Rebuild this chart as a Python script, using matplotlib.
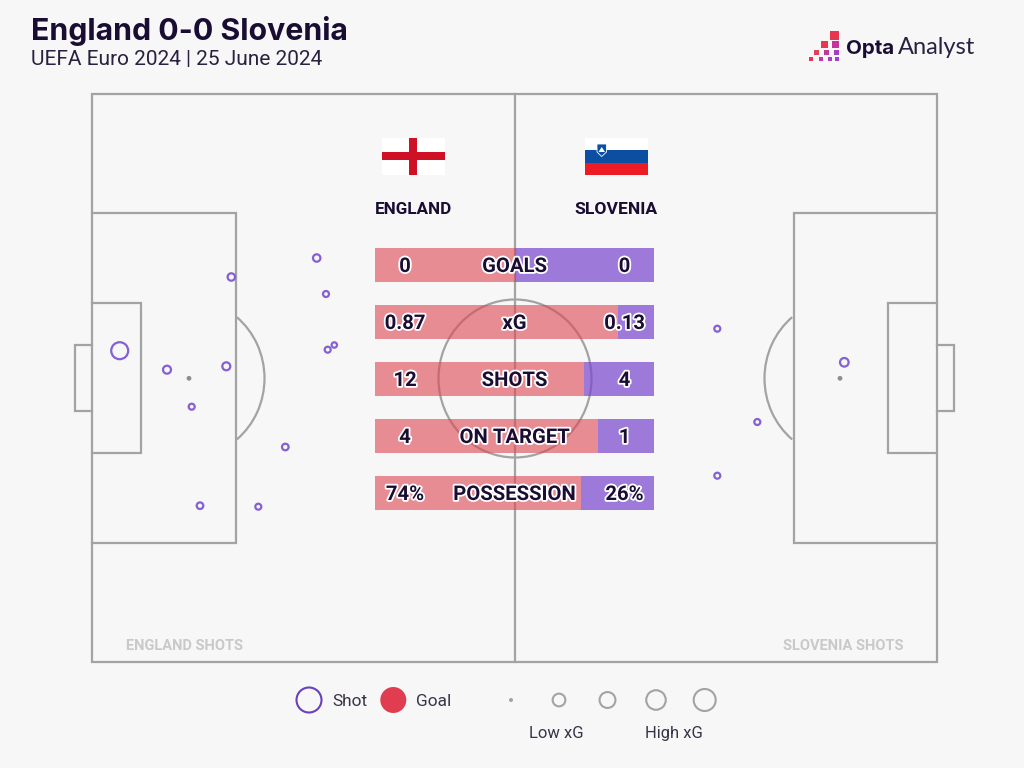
import matplotlib
matplotlib.use('Agg')
import matplotlib.pyplot as plt
import matplotlib.patheffects as pe
from matplotlib.patches import Arc, Circle, Ellipse, Polygon, Rectangle
import numpy as np

# match stats
stat_names = ['GOALS', 'xG', 'SHOTS', 'ON TARGET', 'POSSESSION']
england_stats = [0, 0.87, 12, 4, 74]
slovenia_stats = [0, 0.13, 4, 1, 26]
england_labels = ['0', '0.87', '12', '4', '74%']
slovenia_labels = ['0', '0.13', '4', '1', '26%']

# shots (x, y in image pixels) with estimated xG
england_x = [316.7, 231.3, 326, 334.3, 327.7, 119.7, 167, 226.3, 191.7, 285.3, 200, 258.3]
england_y = [258, 277, 294, 345, 349.7, 350.7, 369.7, 366.3, 406.7, 447, 505.7, 506.7]
england_xg = [0.03, 0.03, 0.011, 0.006, 0.011, 0.40, 0.04, 0.04, 0.011, 0.018, 0.018, 0.011]
slovenia_x = [717.3, 757.3, 717.3, 844.3]
slovenia_y = [328.7, 422, 475.7, 362.3]
slovenia_xg = [0.011, 0.011, 0.011, 0.053]

legend_xg = [0.0, 0.2, 0.36, 0.6, 0.8]

BG = '#F7F7F7'
LINE = '#A3A3A3'
DARK = '#1A0D33'
RED = '#E03E50'
PURPLE = '#8560D4'
LW = 1.6


def shot_radius(xg):
    return 1.9 + 10.4 * np.sqrt(xg)


def draw_half(ax, goal_x, sign, box_w):
    """ Penalty box, six yard box, goal and D for one end """
    box = [(goal_x, 213), (goal_x + sign * box_w, 213), (goal_x + sign * box_w, 543), (goal_x, 543)]
    six = [(goal_x, 303), (goal_x + sign * 49, 303), (goal_x + sign * 49, 453), (goal_x, 453)]
    goal = [(goal_x, 345), (goal_x - sign * 17, 345), (goal_x - sign * 17, 411), (goal_x, 411)]
    for pts in (box, six, goal):
        xs, ys = zip(*pts)
        ax.plot(xs, ys, color=LINE, lw=LW, solid_joinstyle='miter', zorder=1)
    spot_x = goal_x + sign * 97
    theta = 52
    start, end = (-theta, theta) if sign > 0 else (180 - theta, 180 + theta)
    # y axis is inverted, the arc stays symmetric
    ax.add_patch(Arc((spot_x, 378.3), 151, 158, theta1=start, theta2=end,
                     color=LINE, lw=LW, zorder=1))
    ax.add_patch(Circle((spot_x, 378.3), 2.4, color='#8E8E8E', lw=0, zorder=3))


fig = plt.figure(figsize=(10.24, 7.68), dpi=100, facecolor=BG)
ax = fig.add_axes([0, 0, 1, 1])
ax.set_xlim(0, 1024)
ax.set_ylim(768, 0)
ax.axis('off')

# pitch
ax.add_patch(Rectangle((92, 94), 845, 568, fill=False, ec=LINE, lw=LW, zorder=1))
ax.plot([515, 515], [94, 662], color=LINE, lw=LW, zorder=1)
ax.add_patch(Ellipse((515, 378.5), 153, 158, fill=False, ec=LINE, lw=LW, zorder=1))
draw_half(ax, 92, 1, 144)
draw_half(ax, 937, -1, 143)

# shots
for xs, ys, xgs in ((england_x, england_y, england_xg), (slovenia_x, slovenia_y, slovenia_xg)):
    for x, y, xg in zip(xs, ys, xgs):
        ax.add_patch(Circle((x, y), shot_radius(xg), fill=False, ec=PURPLE, lw=1.6, zorder=3))

ax.text(184, 646.5, 'ENGLAND SHOTS', color='#C9C9C9', fontsize=10.5, family='Roboto',
        fontweight='bold', ha='center', va='center')
ax.text(843, 646.5, 'SLOVENIA SHOTS', color='#C9C9C9', fontsize=10.5, family='Roboto',
        fontweight='bold', ha='center', va='center')

# stat bars, translucent so that the pitch shows through
bar_left = 375
bar_width = 279
bar_y = [264.5 + 57 * i for i in range(len(stat_names))]
outline = [pe.withStroke(linewidth=2.6, foreground='white')]
for i, name in enumerate(stat_names):
    total = england_stats[i] + slovenia_stats[i]
    share = england_stats[i] / total if total else 0.5
    ax.barh(bar_y[i], bar_width * share, left=bar_left, height=34, color='#DC4A55', alpha=0.62, lw=0, zorder=2)
    ax.barh(bar_y[i], bar_width * (1 - share), left=bar_left + bar_width * share, height=34,
            color='#7A48CE', alpha=0.72, lw=0, zorder=2)
    for x, s in ((405, england_labels[i]), (514.5, name), (624.5, slovenia_labels[i])):
        ax.text(x, bar_y[i], s, color=DARK, fontsize=14.6, family='Roboto', fontweight='bold',
                ha='center', va='center_baseline', path_effects=outline, zorder=4)

ax.text(413, 207.5, 'ENGLAND', color=DARK, fontsize=12.3, family='Roboto', fontweight='bold',
        ha='center', va='center_baseline')
ax.text(615.5, 207.5, 'SLOVENIA', color=DARK, fontsize=12.6, family='Roboto', fontweight='bold',
        ha='center', va='center_baseline')

# flags
ax.add_patch(Rectangle((381.5, 137.5), 63, 37.5, color='white', lw=0, zorder=2))
ax.add_patch(Rectangle((409.3, 137.5), 7.7, 37.5, color='#CE1124', lw=0, zorder=3))
ax.add_patch(Rectangle((381.5, 152.3), 63, 7.7, color='#CE1124', lw=0, zorder=3))
ax.add_patch(Rectangle((585, 137.5), 62.5, 12.5, color='white', lw=0, zorder=2))
ax.add_patch(Rectangle((585, 150), 62.5, 12.5, color='#0B4EA2', lw=0, zorder=2))
ax.add_patch(Rectangle((585, 162.5), 62.5, 12.5, color='#ED1C24', lw=0, zorder=2))
ax.add_patch(Polygon([(597, 144), (606.5, 144), (606.5, 152), (601.7, 156.5), (597, 152)],
                     closed=True, fc='#0B4EA2', ec='white', lw=0.6, zorder=3))
ax.add_patch(Polygon([(598.5, 152), (601.7, 147), (605, 152)], closed=True, fc='white', lw=0, zorder=4))

# titles
ax.text(31, 40.5, 'England 0-0 Slovenia', color=DARK, fontsize=21.8, family='Inter',
        fontweight='bold', ha='left', va='baseline')
ax.text(31, 65, 'UEFA Euro 2024 | 25 June 2024', color='#2A2140', fontsize=15, family='Roboto',
        ha='left', va='baseline')

# logo
logo_x = [834.5, 824.5, 835, 816.5, 826.5, 836, 810.5, 820.5, 829.5, 836.5]
logo_y = [35, 44.5, 44.5, 52.5, 52.5, 52.5, 58.5, 58.5, 58.5, 58.5]
logo_s = [9, 7, 7, 5, 5, 5, 4, 4, 4, 4]
logo_c = ['#E8364F', '#E8364F', '#C8329C', '#E0405C', '#C0389C', '#A83CC8',
          '#E8364F', '#B83CB0', '#B03CC0', '#9C40D0']
for x, y, s, c in zip(logo_x, logo_y, logo_s, logo_c):
    ax.add_patch(Rectangle((x - s / 2, y - s / 2), s, s, color=c, lw=0))
ax.text(846, 54, 'Opta', color=DARK, fontsize=14.8, family='Inter', fontweight='bold',
        ha='left', va='baseline')
ax.text(898, 54, 'Analyst', color='#2A2140', fontsize=17, family='Lato', fontweight='normal',
        ha='left', va='baseline')

# legend
ax.add_patch(Circle((309, 700), 12.5, fill=False, ec='#6A3FC0', lw=1.5))
ax.add_patch(Circle((393.3, 700), 13, color=RED, lw=0))
ax.text(332, 700, 'Shot', color='#3A3348', fontsize=12.4, family='Roboto', ha='left', va='center_baseline')
ax.text(416, 700, 'Goal', color='#3A3348', fontsize=12.4, family='Roboto', ha='left', va='center_baseline')

for x, xg in zip([511, 559, 607.5, 656, 704.7], legend_xg):
    if xg == 0:
        ax.add_patch(Circle((x, 700), 2, color=LINE, lw=0))
    else:
        ax.add_patch(Circle((x, 700), shot_radius(xg) - 0.2, fill=False, ec=LINE, lw=1.5))
ax.text(556.5, 732, 'Low xG', color='#3A3348', fontsize=12, family='Roboto', ha='center', va='center_baseline')
ax.text(674, 732, 'High xG', color='#3A3348', fontsize=12, family='Roboto', ha='center', va='center_baseline')

fig.savefig('out.png', dpi=100, facecolor=BG)
